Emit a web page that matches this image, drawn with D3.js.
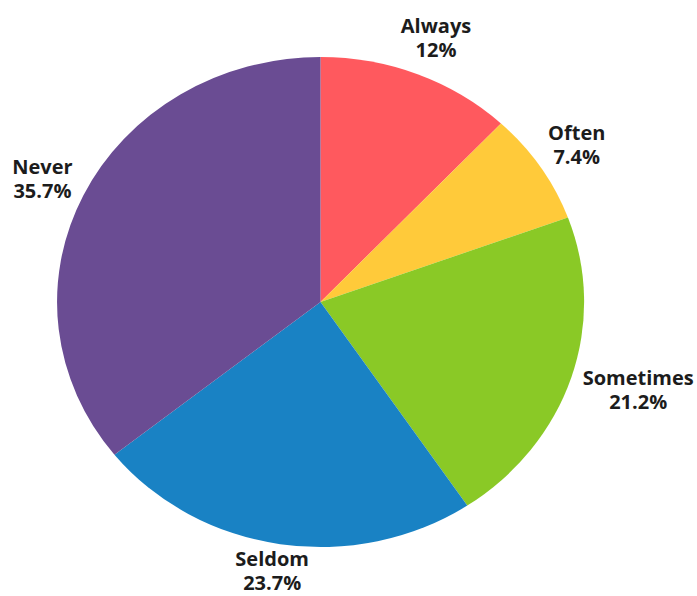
<!DOCTYPE html>
<html>
<head>
<meta charset="utf-8">
<script src="https://cdn.jsdelivr.net/npm/d3@7"></script>
<style>
  html, body { margin: 0; padding: 0; background: #ffffff; }
  svg { display: block; }
  .label { font-family: "Open Sans", "Noto Sans", sans-serif; font-weight: 700; font-size: 20px; fill: #1c1c1c; }
</style>
</head>
<body>
<div id="chart"></div>
<script>
// How often: share of responses per answer
const categories = ["Always", "Often", "Sometimes", "Seldom", "Never"];
const shares = [12, 7.4, 21.2, 23.7, 35.7];
const colors = ["#ff595e", "#ffca3a", "#8ac926", "#1982c4", "#6a4c93"];

const width = 697, height = 596;
const rx = 263.5, ry = 245;   // the pie is drawn slightly wider than tall
const cx = 320.5, cy = 302;
const labelOffset = 15;
const lineGap = 24;

const svg = d3.select("#chart").append("svg")
  .attr("width", width).attr("height", height);

const color = d3.scaleOrdinal().domain(categories).range(colors);

const pie = d3.pie().sort(null).value(d => d.value);
const arcs = pie(categories.map((c, i) => ({ name: c, value: shares[i] })));

// Unit-radius arcs, stretched to the ellipse by the group transform
const arc = d3.arc().innerRadius(0).outerRadius(1);

svg.append("g")
  .attr("transform", `translate(${cx},${cy}) scale(${rx},${ry})`)
  .selectAll("path.slice")
  .data(arcs)
  .join("path")
  .attr("class", "slice")
  .attr("d", arc)
  .attr("fill", d => color(d.data.name));

// Two-line labels (name, share) just outside each slice, along its mid angle
const labels = svg.append("g")
  .selectAll("text.label")
  .data(arcs)
  .join("text")
  .attr("class", "label")
  .attr("text-anchor", "middle");

labels.append("tspan")
  .attr("x", 0)
  .attr("y", -lineGap / 2)
  .attr("dy", "0.35em")
  .text(d => d.data.name);

labels.append("tspan")
  .attr("x", 0)
  .attr("y", lineGap / 2)
  .attr("dy", "0.35em")
  .text(d => `${d.data.value}%`);

labels.attr("transform", function(d) {
  const a = (d.startAngle + d.endAngle) / 2;
  const vx = Math.sin(a), vy = -Math.cos(a);
  let w = 0;
  d3.select(this).selectAll("tspan").each(function() {
    w = Math.max(w, this.getComputedTextLength());
  });
  const hh = lineGap;
  const x = cx + (rx + labelOffset) * vx + (w / 2) * vx;
  let y = cy + (ry + labelOffset) * vy + hh * vy;
  // keep the label block inside the canvas
  y = Math.min(y, height - hh - 1);
  return `translate(${x},${y})`;
});
</script>
</body>
</html>
